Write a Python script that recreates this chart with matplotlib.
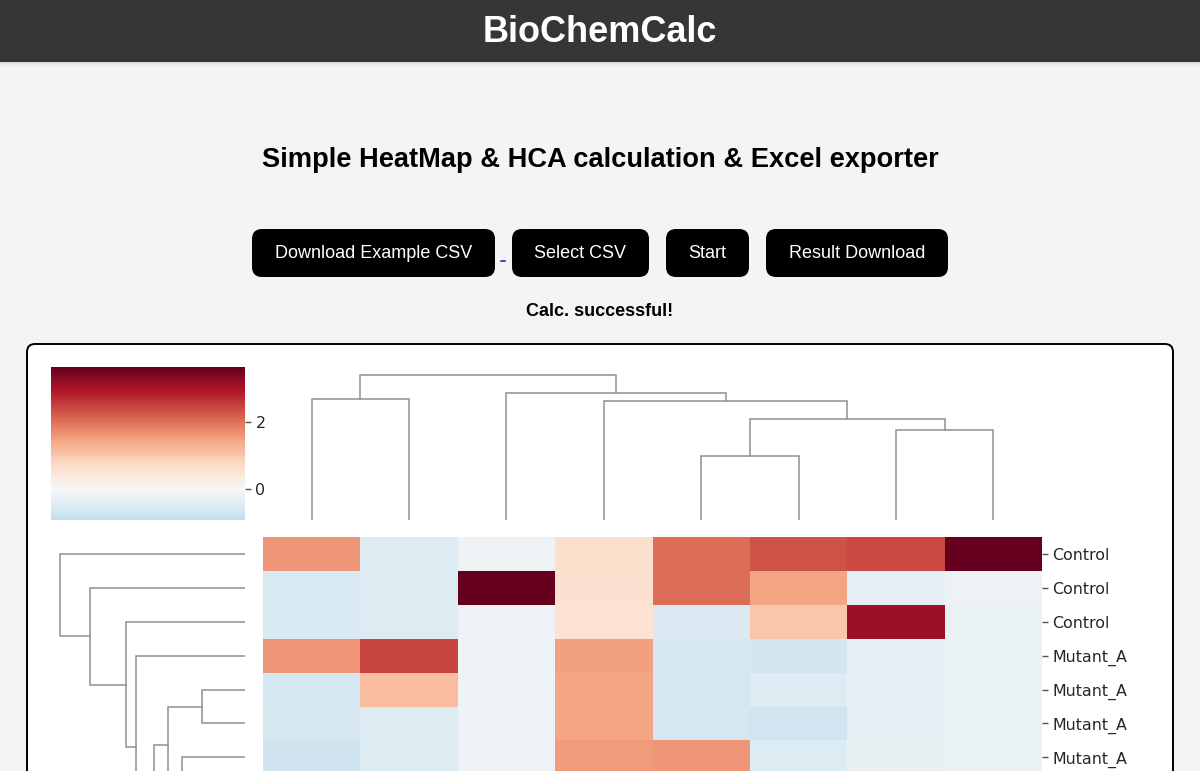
import matplotlib
matplotlib.use("Agg")
import matplotlib.pyplot as plt
import numpy as np
from matplotlib.cm import ScalarMappable
from matplotlib.colors import Normalize
from matplotlib.patches import FancyBboxPatch, Rectangle

W, H = 1200, 771

# --- data ---
row_labels = ["Control", "Control", "Control", "Mutant_A", "Mutant_A", "Mutant_A", "Mutant_A"]
heat_values = [
    [1.60, -0.50, -0.18, 0.65, 2.04, 2.33, 2.40, 3.64],
    [-0.58, -0.50, 3.64, 0.58, 2.04, 1.46, -0.33, -0.18],
    [-0.58, -0.50, -0.22, 0.55, -0.55, 1.00, 3.13, -0.25],
    [1.60, 2.47, -0.22, 1.48, -0.65, -0.70, -0.30, -0.25],
    [-0.65, 1.13, -0.22, 1.45, -0.65, -0.50, -0.30, -0.25],
    [-0.60, -0.50, -0.22, 1.45, -0.65, -0.72, -0.32, -0.25],
    [-0.75, -0.50, -0.22, 1.55, 1.60, -0.50, -0.27, -0.25],
]
cbar_ticks = [0, 2]

# merges are (child, child, height), children >= n_leaves point at an earlier merge
col_leaves = 8
col_merges = [
    (0, 1, 121.3), (4, 5, 63.7), (6, 7, 89.7), (9, 10, 101.0),
    (3, 11, 119.3), (2, 12, 127.3), (8, 13, 145.3),
]
# the clustered rows carry on below the crop of the screenshot
row_leaves = 16
row_merges = [
    (4, 5, 43.3), (7, 8, 40.0), (6, 17, 63.3), (16, 18, 77.0),
    (9, 10, 30.0), (11, 12, 20.0), (13, 14, 20.0), (22, 15, 30.0),
    (21, 23, 45.0), (20, 24, 60.0), (19, 25, 90.7), (3, 26, 108.7),
    (2, 27, 119.0), (1, 28, 155.0), (0, 29, 184.7),
]

title = "BioChemCalc"
subtitle = "Simple HeatMap & HCA calculation & Excel exporter"
status = "Calc. successful!"
button_labels = ["Download Example CSV", "Select CSV", "Start", "Result Download"]
button_edges = [(252, 495), (512, 649), (666, 749), (766, 948)]

plt.rcParams["font.family"] = ["DejaVu Sans"]
ui_font = ["Liberation Sans", "DejaVu Sans"]
dark_text = "#262626"
dendro_color = "#8f8f8f"


def px_axes(fig, x0, y0, x1, y1):
    # axes from screenshot pixels, y counted from the top
    return fig.add_axes([x0 / W, 1 - y1 / H, (x1 - x0) / W, (y1 - y0) / H])


def draw_dendrogram(ax, n_leaves, merges, horizontal=False):
    pos = [i + 0.5 for i in range(n_leaves)]
    height = [0.0] * n_leaves
    for a, b, h in merges:
        xs = [pos[a], pos[a], pos[b], pos[b]]
        ys = [height[a], h, h, height[b]]
        if horizontal:
            ax.plot(ys, xs, color=dendro_color, lw=1.1, solid_joinstyle="miter")
        else:
            ax.plot(xs, ys, color=dendro_color, lw=1.1, solid_joinstyle="miter")
        pos.append((pos[a] + pos[b]) / 2)
        height.append(h)
    ax.axis("off")


fig = plt.figure(figsize=(W / 100, H / 100), dpi=100, facecolor="#f4f4f4")

# --- page around the chart ---
page = fig.add_axes([0, 0, 1, 1])
page.set_xlim(0, W)
page.set_ylim(H, 0)
page.axis("off")

page.add_patch(Rectangle((0, 0), W, 62, color="#363636", lw=0))
# soft shadow under the header
for i, c in enumerate(["#d9d9d9", "#e3e3e3", "#eaeaea", "#eeeeee", "#f1f1f1", "#f3f3f3"]):
    page.add_patch(Rectangle((0, 62 + i), W, 1, color=c, lw=0))
page.text(600, 32, title, color="white", fontsize=26, fontweight="bold",
          family=ui_font, ha="center", va="center")
page.text(600, 160, subtitle, color="black", fontsize=19.6, fontweight="bold",
          family=ui_font, ha="center", va="center")

for label, (x0, x1) in zip(button_labels, button_edges):
    page.add_patch(FancyBboxPatch((x0 + 10, 239), x1 - x0 - 20, 28,
                                  boxstyle="round,pad=10,rounding_size=10",
                                  fc="black", ec="none"))
    page.text((x0 + x1) / 2, 254, label, color="white", fontsize=13,
              family=ui_font, ha="center", va="center")
page.plot([501, 505], [261, 261], color="#1a1ab0", lw=1.1)
page.text(600, 312, status, color="black", fontsize=13, fontweight="bold",
          family=ui_font, ha="center", va="center")

# white card, runs off the bottom of the screenshot
page.add_patch(FancyBboxPatch((35, 352), 1130, 500,
                              boxstyle="round,pad=8,rounding_size=8",
                              fc="white", ec="black", lw=1.4))

# --- heatmap ---
norm = Normalize(-3.64, 3.64)
cmap = plt.get_cmap("RdBu_r")

ax_heat = px_axes(fig, 263, 537, 1042, 771)
ax_heat.pcolormesh(np.array(heat_values), cmap=cmap, norm=norm)
ax_heat.set_xlim(0, 8)
ax_heat.set_ylim((771 - 537) / 33.9, 0)
ax_heat.set_xticks([])
ax_heat.yaxis.tick_right()
ax_heat.set_yticks(np.arange(len(row_labels)) + 0.5)
ax_heat.set_yticklabels(row_labels, fontsize=11.4, color=dark_text)
ax_heat.tick_params(axis="y", length=4, width=1, color="#555555", pad=3.5)
for s in ax_heat.spines.values():
    s.set_visible(False)

# --- dendrograms ---
ax_top = px_axes(fig, 263, 360, 1042, 520)
draw_dendrogram(ax_top, col_leaves, col_merges)
ax_top.set_xlim(0, 8)
ax_top.set_ylim(0, 160)

ax_left = px_axes(fig, 50, 537, 245, 771)
draw_dendrogram(ax_left, row_leaves, row_merges, horizontal=True)
ax_left.set_xlim(195, 0)
ax_left.set_ylim((771 - 537) / 33.9, 0)

# --- colorbar ---
cax = px_axes(fig, 51, 367, 245, 520)
cb = fig.colorbar(ScalarMappable(norm=norm, cmap=cmap), cax=cax)
cb.outline.set_visible(False)
cax.set_ylim(-0.93, 3.64)
cb.set_ticks(cbar_ticks)
cax.tick_params(axis="y", length=4, width=1, labelsize=11.4, color="#555555",
                labelcolor=dark_text, pad=3.5)

fig.savefig("out.png", dpi=100, facecolor=fig.get_facecolor())
